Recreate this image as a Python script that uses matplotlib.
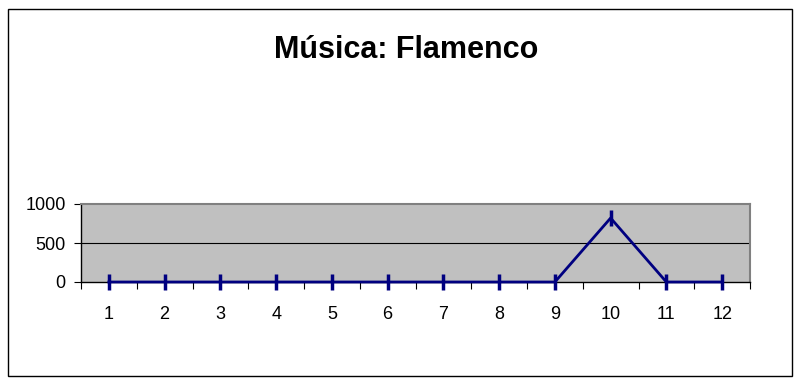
import matplotlib
matplotlib.use("Agg")
import matplotlib.pyplot as plt
from matplotlib.patches import Rectangle

plt.rcParams["font.family"] = ["Liberation Sans", "DejaVu Sans"]

months = ["1", "2", "3", "4", "5", "6", "7", "8", "9", "10", "11", "12"]
values = [0, 0, 0, 0, 0, 0, 0, 0, 0, 820, 0, 0]
yticks = [0, 500, 1000]

fig = plt.figure(figsize=(8, 3.85), dpi=100)
fig.patches.append(Rectangle((8 / 800, 9 / 385), 784 / 800, 367 / 385,
                             transform=fig.transFigure, fill=False,
                             edgecolor="black", linewidth=1))

ax = fig.add_axes([81 / 800, (385 - 282) / 385, 669 / 800, 78 / 385])
ax.set_facecolor("#c0c0c0")
xs = list(range(len(months)))
ax.plot(xs, values, color="#000080", linewidth=2, marker="|",
        markersize=12, markeredgewidth=2.5, clip_on=False, zorder=3)

ax.set_xlim(-0.5, len(months) - 0.5)
ax.set_ylim(0, 1000)
ax.set_yticks(yticks)
ax.set_yticklabels([str(v) for v in yticks], fontsize=13)
ax.set_xticks([x + 0.5 for x in range(-1, len(months))])
ax.set_xticklabels([])
ax.set_xticks(xs, minor=True)
ax.set_xticklabels(months, minor=True, fontsize=13)
ax.tick_params(axis="x", which="major", direction="out", length=5, color="black")
ax.tick_params(axis="x", which="minor", length=0, pad=17)
ax.tick_params(axis="y", direction="out", length=5, pad=6)
ax.axhline(500, color="black", linewidth=0.8, zorder=1)

for side in ("top", "right"):
    ax.spines[side].set_color("#808080")
    ax.spines[side].set_linewidth(1.5)
for side in ("left", "bottom"):
    ax.spines[side].set_color("black")
    ax.spines[side].set_linewidth(1)

fig.text(406 / 800, 1 - 50 / 385, "Música: Flamenco", ha="center", va="center",
         fontsize=22, fontweight="bold")

fig.savefig("out.png", dpi=100)
